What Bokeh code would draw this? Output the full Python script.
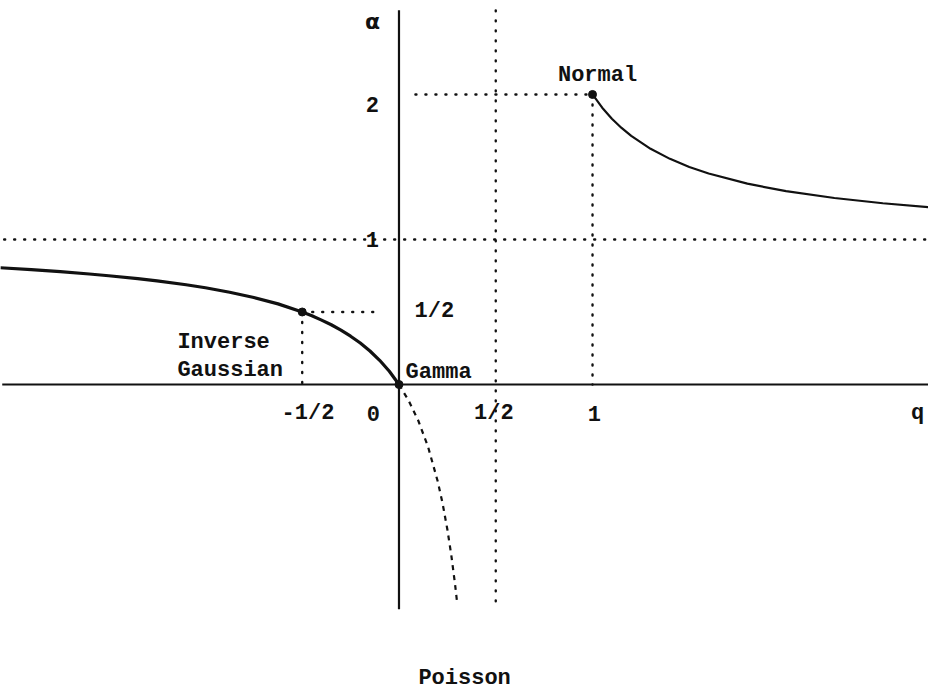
from bokeh.plotting import figure
from bokeh.models import Range1d
from bokeh.core.properties import value
from bokeh.embed import file_html
from bokeh.resources import INLINE

# Curve: alpha as a function of q
left_q = [-2.06, -1.9, -1.75, -1.6, -1.5, -1.35, -1.25, -1.1, -1.0, -0.875, -0.75, -0.625, -0.5,
          -0.45, -0.4, -0.35, -0.3, -0.25, -0.2, -0.15, -0.1, -0.05, 0.0]
left_a = [0.805, 0.792, 0.778, 0.762, 0.75, 0.730, 0.714, 0.688, 0.667, 0.636, 0.6, 0.556, 0.5,
          0.474, 0.444, 0.412, 0.375, 0.333, 0.286, 0.231, 0.167, 0.091, 0.0]

pois_q = [0.0, 0.05, 0.1, 0.15, 0.2, 0.225, 0.25, 0.27, 0.29, 0.30]
pois_a = [0.0, -0.111, -0.25, -0.429, -0.667, -0.818, -1.0, -1.174, -1.381, -1.5]

right_q = [1.0, 1.05, 1.1, 1.15, 1.2, 1.3, 1.4, 1.5, 1.6, 1.8, 2.0, 2.25, 2.5, 2.74]
right_a = [2.0, 1.909, 1.833, 1.769, 1.714, 1.625, 1.556, 1.5, 1.455, 1.385, 1.333, 1.286, 1.25, 1.223]

# special points
pt_q = [0.0, -0.5, 1.0]
pt_a = [0.0, 0.5, 2.0]

# axis tick labels
xtick_q = [-0.5, 0.0, 0.5, 1.0]
xtick_lab = ["-1/2", "0", "1/2", "1"]
ytick_a = [2.0, 1.0]
ytick_lab = ["2", "1"]

Q_MIN, Q_MAX = -2.059, 2.736
A_MIN, A_MAX = -2.117, 2.648

p = figure(width=928, height=691, output_backend="svg", toolbar_location=None,
           x_range=Range1d(Q_MIN, Q_MAX), y_range=Range1d(A_MIN, A_MAX),
           min_border=0, outline_line_color=None)
p.xaxis.visible = False
p.yaxis.visible = False
p.grid.visible = False
p.background_fill_color = "white"
p.border_fill_color = "white"

ink = "#111111"
dot_kw = dict(line_color=ink, line_width=2.4, line_dash="1 9", line_cap="round")

# dotted guide lines
p.line([-2.04, Q_MAX], [1, 1], **dot_kw)
p.line([0.5, 0.5], [2.58, -1.55], **dot_kw)
p.line([0.085, 1.0], [2, 2], **dot_kw)
p.line([1.0, 1.0], [2, 0], **dot_kw)
p.line([-0.5, -0.12], [0.5, 0.5], **dot_kw)
p.line([-0.5, -0.5], [0.5, 0], **dot_kw)

# axes
p.line([-2.05, Q_MAX], [0, 0], line_color=ink, line_width=2)
p.line([0, 0], [2.58, -1.55], line_color=ink, line_width=2.2)

# curves
p.line(left_q, left_a, line_color=ink, line_width=3.2)
p.line(right_q, right_a, line_color=ink, line_width=2.2)
p.line(pois_q, pois_a, line_color=ink, line_width=2.2, line_dash="5 5")

p.scatter(pt_q, pt_a, size=8, fill_color=ink, line_color=ink)

font = value("Liberation Mono")
tkw = dict(text_font=font, text_font_size="22px", text_font_style="bold",
           text_color=ink, text_baseline="middle")

# x labels sit at their tick values; the "0" is set just left of the alpha axis
x_nudge = [0.03, -0.132, -0.01, 0.01]
p.text(x=[t + n for t, n in zip(xtick_q, x_nudge)], y=[-0.2] * 4, text=xtick_lab,
       text_align="center", **tkw)
p.text(x=[2.68], y=[-0.2], text=["q"], text_align="center", **tkw)
p.text(x=[-0.137] * 2, y=[a - 0.07 if a == 2.0 else a for a in ytick_a], text=ytick_lab,
       text_align="center", **tkw)
p.text(x=[-0.137], y=[2.5], text=["α"], text_align="center",
       text_font=value("DejaVu Sans"), text_font_size="22px", text_font_style="bold",
       text_color=ink, text_baseline="middle")
p.text(x=[0.08], y=[0.5], text=["1/2"], text_align="left", **tkw)
p.text(x=[1.026], y=[2.13], text=["Normal"], text_align="center", **tkw)
p.text(x=[-1.145, -1.145], y=[0.29, 0.097], text=["Inverse", "Gaussian"], text_align="left", **tkw)
p.text(x=[0.034], y=[0.083], text=["Gamma"], text_align="left", **tkw)
p.text(x=[0.339], y=[-2.03], text=["Poisson"], text_align="center", **tkw)

open("out.html", "w").write(file_html(p, INLINE))
